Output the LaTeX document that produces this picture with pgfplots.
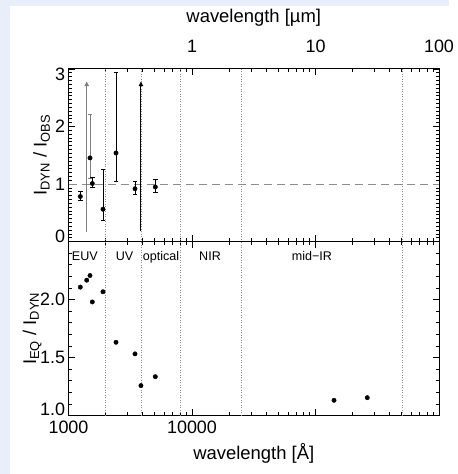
\documentclass[border=0pt]{standalone}
\usepackage{fontspec}
\setmainfont{Liberation Sans}
\usepackage{pgfplots}
\pgfplotsset{compat=1.18}
\usetikzlibrary{arrows.meta}
\definecolor{pageBg}{HTML}{E8EFFB}
\definecolor{limGray}{HTML}{7F7F7F}
\definecolor{refGray}{HTML}{8C8C8C}

\pgfplotsset{
  mnPanel/.style={
    scale only axis, width=370.5bp,
    xmin=1000, xmax=1000000,
    xtick={1000,10000,100000,1000000},
    minor xtick={2000,3000,4000,5000,6000,7000,8000,9000,
      20000,30000,40000,50000,60000,70000,80000,90000,
      200000,300000,400000,500000,600000,700000,800000,900000},
    tick align=inside,
    major tick length=6.5bp, minor tick length=3.3bp,
    tick style={black,line width=0.8pt},
    axis line style={line width=1pt},
    tick label style={font=\fontsize{18}{20}\selectfont},
    label style={font=\fontsize{18.5}{21}\selectfont},
  },
  mnRegion/.style={refGray,line width=0.6pt,dash pattern=on 0.7bp off 1.8bp},
  mnDot/.style={only marks,mark=*,mark size=2.2bp,black},
}
\tikzset{mnText/.style={anchor=base west,inner sep=0pt,font=\fontsize{12.6}{14}\selectfont}}

\begin{document}
\begin{tikzpicture}
\fill[pageBg] (0bp,0bp) rectangle (449bp,-474bp);
\fill[white] (10bp,-6bp) rectangle (449bp,-474bp);

% upper panel: I_DYN / I_OBS
\begin{axis}[xmode=log, mnPanel,
  at={(68.5bp,-241.7bp)}, anchor=south west, height=172.8bp,
  ymin=0, ymax=3, ytick={0,1,2,3}, minor y tick num=14,
  yticklabels={\raisebox{5bp}[\height][0pt]{0},1,2,\raisebox{-5bp}[\height][0pt]{3}},
  xticklabel pos=right, xticklabels={,1,10,100},
  xticklabel style={anchor=base, yshift=16.8bp},
  xlabel={wavelength [µm]},
  xlabel style={at={(axis description cs:0.5,1)}, anchor=base, yshift=46bp},
  ylabel={I\textsubscript{DYN} / I\textsubscript{OBS}},
  ylabel style={at={(axis description cs:-0.0588,0.5)}, anchor=base},
]
\addplot[mnRegion] coordinates {(2000,0) (2000,3)};
\addplot[mnRegion] coordinates {(3860,0) (3860,3)};
\addplot[mnRegion] coordinates {(8000,0) (8000,3)};
\addplot[mnRegion] coordinates {(25000,0) (25000,3)};
\addplot[mnRegion] coordinates {(500000,0) (500000,3)};
\addplot[refGray, line width=0.8pt, dash pattern=on 8bp off 5bp] coordinates {(1000,1) (1000000,1)};

% lower limits
\addplot[limGray, line width=0.9pt, -{Triangle[length=4.5bp,width=4.5bp]}] coordinates {(1404,0.16) (1404,2.78)};
\addplot[black, line width=0.9pt, -{Triangle[length=4.5bp,width=4.5bp]}] coordinates {(3860,0.19) (3860,2.78)};

\addplot[mnDot,
  error bars/.cd, y dir=both, y explicit,
  error bar style={limGray,line width=0.9pt},
  error mark options={limGray,rotate=90,mark size=2.4bp,line width=0.8pt}]
  table[x=x,y=y,y error plus=ep,y error minus=em] {
x    y     ep    em
1493 1.455 0.755 0.36
};
\addplot[mnDot,
  error bars/.cd, y dir=both, y explicit,
  error bar style={black,line width=0.9pt},
  error mark options={black,rotate=90,mark size=2.4bp,line width=0.8pt}]
  table[x=x,y=y,y error plus=ep,y error minus=em] {
x    y     ep    em
1246 0.785 0.08  0.075
1559 1.01  0.10  0.06
1902 0.564 0.686 0.194
2425 1.54  1.40  0.50
3455 0.92  0.125 0.095
5045 0.95  0.13  0.09
};
\end{axis}

% lower panel: I_EQ / I_DYN
\begin{axis}[xmode=log, mnPanel,
  at={(68.5bp,-241.7bp)}, anchor=north west, height=173.8bp,
  ymin=1, ymax=2.5, ytick={1,1.5,2,2.5}, minor y tick num=4,
  yticklabels={\raisebox{6bp}[\height][0pt]{1.0},1.5,2.0,},
  xticklabels={1000,10000,,},
  xticklabel style={anchor=base, yshift=-17.8bp},
  xlabel={wavelength [Å]},
  xlabel style={at={(axis description cs:0.5,0)}, anchor=base, yshift=-43.5bp},
  ylabel={I\textsubscript{EQ} / I\textsubscript{DYN}},
  ylabel style={at={(axis description cs:-0.0877,0.5)}, anchor=base},
]
\addplot[mnRegion] coordinates {(2000,1) (2000,2.5)};
\addplot[mnRegion] coordinates {(3860,1) (3860,2.5)};
\addplot[mnRegion] coordinates {(8000,1) (8000,2.5)};
\addplot[mnRegion] coordinates {(25000,1) (25000,2.5)};
\addplot[mnRegion] coordinates {(500000,1) (500000,2.5)};

\addplot[mnDot] table {
1246   2.108
1404   2.168
1493   2.208
1559   1.98
1902   2.068
2425   1.632
3455   1.532
3860   1.258
5045   1.335
141200 1.131
262600 1.154
};

\node[mnText] at (axis cs:1061,2.342) {EUV};
\node[mnText] at (axis cs:2411,2.342) {UV};
\node[mnText] at (axis cs:3990,2.342) {optical};
\node[mnText] at (axis cs:11400,2.342) {NIR};
\node[mnText] at (axis cs:64200,2.342) {mid−IR};
\end{axis}
\end{tikzpicture}
\end{document}
